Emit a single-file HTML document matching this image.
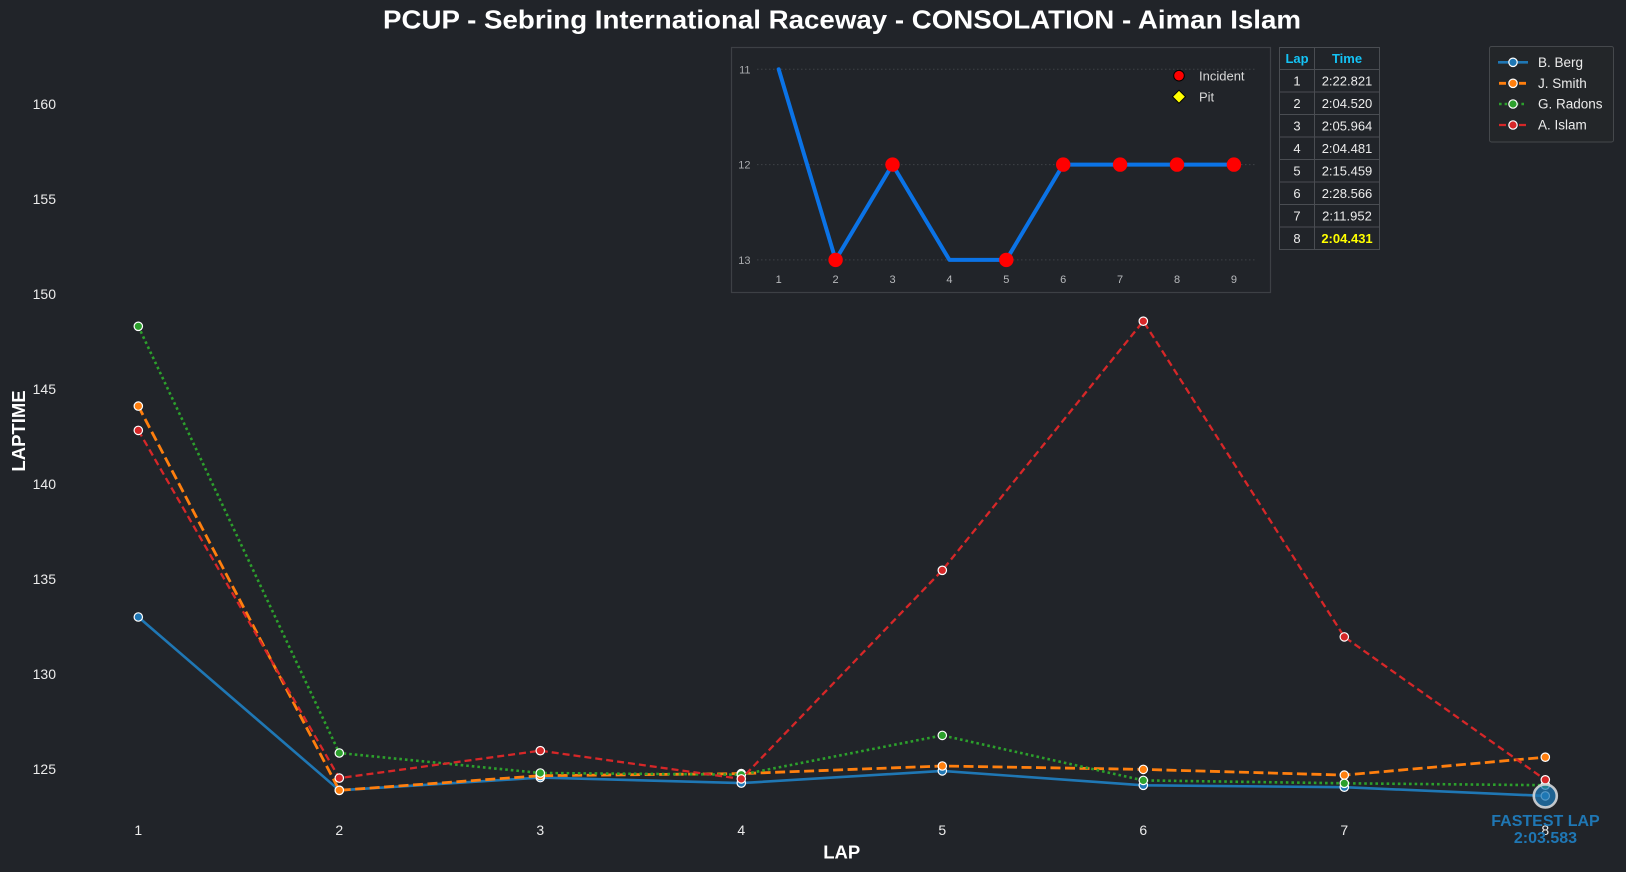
<!DOCTYPE html>
<html>
<head>
<meta charset="utf-8">
<style>
  html, body { margin:0; padding:0; background:#212429; }
  body { width:1626px; height:872px; overflow:hidden; }
  svg { display:block; font-family:"Liberation Sans", Arial, sans-serif; }
</style>
</head>
<body>
<svg width="1626" height="872" viewBox="0 0 1626 872" xmlns="http://www.w3.org/2000/svg">
  <rect x="0" y="0" width="1626" height="872" fill="#212429"/>

  <!-- Title -->
  <text x="842" y="28.5" text-anchor="middle" font-size="26" font-weight="bold" fill="#ffffff" textLength="918" lengthAdjust="spacingAndGlyphs">PCUP - Sebring International Raceway - CONSOLATION - Aiman Islam</text>

  <!-- Y tick labels -->
  <g font-size="14" fill="#ececec" text-anchor="end">
    <text x="56" y="109">160</text>
    <text x="56" y="204">155</text>
    <text x="56" y="299">150</text>
    <text x="56" y="394">145</text>
    <text x="56" y="489">140</text>
    <text x="56" y="584">135</text>
    <text x="56" y="679">130</text>
    <text x="56" y="774">125</text>
  </g>

  <!-- X tick labels -->
  <g font-size="14" fill="#ececec" text-anchor="middle">
    <text x="138.3" y="835">1</text>
    <text x="339.3" y="835">2</text>
    <text x="540.3" y="835">3</text>
    <text x="741.3" y="835">4</text>
    <text x="942.3" y="835">5</text>
    <text x="1143.3" y="835">6</text>
    <text x="1344.3" y="835">7</text>
    <text x="1545.3" y="835">8</text>
  </g>

  <!-- Axis labels -->
  <text x="841.7" y="858.3" text-anchor="middle" font-size="18.5" font-weight="bold" fill="#ffffff">LAP</text>
  <text transform="translate(25,431) rotate(-90)" x="0" y="0" text-anchor="middle" font-size="18.5" font-weight="bold" fill="#ffffff">LAPTIME</text>

  <!-- Series: B. Berg -->
  <polyline fill="none" stroke="#1f77b4" stroke-width="2.6" stroke-linejoin="round"
    points="138.3,617 339.3,790.3 540.3,777.6 741.3,783.1 942.3,770.9 1143.3,785.3 1344.3,787.2 1545.3,795.9"/>
  <g fill="#1f77b4" stroke="#ffffff" stroke-width="1.2">
    <circle cx="138.3" cy="617" r="4.2"/>
    <circle cx="339.3" cy="790.3" r="4.2"/>
    <circle cx="540.3" cy="777.6" r="4.2"/>
    <circle cx="741.3" cy="783.1" r="4.2"/>
    <circle cx="942.3" cy="770.9" r="4.2"/>
    <circle cx="1143.3" cy="785.3" r="4.2"/>
    <circle cx="1344.3" cy="787.2" r="4.2"/>
    <circle cx="1545.3" cy="795.9" r="4.2"/>
  </g>

  <!-- Series: J. Smith -->
  <polyline fill="none" stroke="#ff7f0e" stroke-width="2.8" stroke-dasharray="10,4.5" stroke-linejoin="round"
    points="138.3,406.1 339.3,790.3 540.3,775.7 741.3,773.6 942.3,766 1143.3,769.4 1344.3,775.1 1545.3,757.2"/>
  <g fill="#ff7f0e" stroke="#ffffff" stroke-width="1.2">
    <circle cx="138.3" cy="406.1" r="4.2"/>
    <circle cx="339.3" cy="790.3" r="4.2"/>
    <circle cx="540.3" cy="775.7" r="4.2"/>
    <circle cx="741.3" cy="773.6" r="4.2"/>
    <circle cx="942.3" cy="766" r="4.2"/>
    <circle cx="1143.3" cy="769.4" r="4.2"/>
    <circle cx="1344.3" cy="775.1" r="4.2"/>
    <circle cx="1545.3" cy="757.2" r="4.2"/>
  </g>

  <!-- Series: G. Radons -->
  <polyline fill="none" stroke="#2ca02c" stroke-width="2.6" stroke-dasharray="2.6,3" stroke-linejoin="round"
    points="138.3,326.3 339.3,753 540.3,773 741.3,774.7 942.3,735.4 1143.3,780.4 1344.3,783.3 1545.3,785.2"/>
  <g fill="#2ca02c" stroke="#ffffff" stroke-width="1.2">
    <circle cx="138.3" cy="326.3" r="4.2"/>
    <circle cx="339.3" cy="753" r="4.2"/>
    <circle cx="540.3" cy="773" r="4.2"/>
    <circle cx="741.3" cy="774.7" r="4.2"/>
    <circle cx="942.3" cy="735.4" r="4.2"/>
    <circle cx="1143.3" cy="780.4" r="4.2"/>
    <circle cx="1344.3" cy="783.3" r="4.2"/>
    <circle cx="1545.3" cy="785.2" r="4.2"/>
  </g>

  <!-- Series: A. Islam -->
  <polyline fill="none" stroke="#d62728" stroke-width="2.3" stroke-dasharray="7,4" stroke-linejoin="round"
    points="138.3,430.4 339.3,778.1 540.3,750.7 741.3,778.9 942.3,570.3 1143.3,321.2 1344.3,636.9 1545.3,779.8"/>
  <g fill="#d62728" stroke="#ffffff" stroke-width="1.2">
    <circle cx="138.3" cy="430.4" r="4.2"/>
    <circle cx="339.3" cy="778.1" r="4.2"/>
    <circle cx="540.3" cy="750.7" r="4.2"/>
    <circle cx="741.3" cy="778.9" r="4.2"/>
    <circle cx="942.3" cy="570.3" r="4.2"/>
    <circle cx="1143.3" cy="321.2" r="4.2"/>
    <circle cx="1344.3" cy="636.9" r="4.2"/>
    <circle cx="1545.3" cy="779.8" r="4.2"/>
  </g>

  <!-- Fastest lap highlight -->
  <circle cx="1545.3" cy="795.9" r="11.5" fill="#1f77b4" fill-opacity="0.75" stroke="#d4d6d8" stroke-width="2.6" stroke-opacity="0.9"/>
  <g font-size="16" font-weight="bold" fill="#1f77b4" text-anchor="middle">
    <text x="1545.5" y="826">FASTEST LAP</text>
    <text x="1545.5" y="843">2:03.583</text>
  </g>

  <!-- Inset position chart -->
  <rect x="731.5" y="47.5" width="539" height="245" fill="#212429" stroke="#3d4045" stroke-width="1.2"/>
  <g stroke="#3f4247" stroke-width="1" stroke-dasharray="1.5,2.5">
    <line x1="757" y1="69.3" x2="1255" y2="69.3"/>
    <line x1="757" y1="164.6" x2="1255" y2="164.6"/>
    <line x1="757" y1="259.9" x2="1255" y2="259.9"/>
  </g>
  <g font-size="11" fill="#a9abae" text-anchor="end">
    <text x="750.5" y="73.3">11</text>
    <text x="750.5" y="168.6">12</text>
    <text x="750.5" y="263.9">13</text>
  </g>
  <g font-size="11" fill="#b8babd" text-anchor="middle">
    <text x="778.7" y="283">1</text>
    <text x="835.6" y="283">2</text>
    <text x="892.5" y="283">3</text>
    <text x="949.4" y="283">4</text>
    <text x="1006.3" y="283">5</text>
    <text x="1063.2" y="283">6</text>
    <text x="1120.1" y="283">7</text>
    <text x="1177" y="283">8</text>
    <text x="1233.9" y="283">9</text>
  </g>
  <polyline fill="none" stroke="#0b73e6" stroke-width="4" stroke-linejoin="round" stroke-linecap="round"
    points="778.7,69.3 835.6,259.9 892.5,164.6 949.4,259.9 1006.3,259.9 1063.2,164.6 1120.1,164.6 1177,164.6 1233.9,164.6"/>
  <g fill="#ff0000">
    <circle cx="835.6" cy="259.9" r="7.2"/>
    <circle cx="892.5" cy="164.6" r="7.2"/>
    <circle cx="1006.3" cy="259.9" r="7.2"/>
    <circle cx="1063.2" cy="164.6" r="7.2"/>
    <circle cx="1120.1" cy="164.6" r="7.2"/>
    <circle cx="1177" cy="164.6" r="7.2"/>
    <circle cx="1233.9" cy="164.6" r="7.2"/>
  </g>
  <!-- inset legend -->
  <circle cx="1179" cy="75.7" r="5.3" fill="#ff0000" stroke="#000000" stroke-width="1"/>
  <text x="1199" y="80.3" font-size="13" fill="#d8d8d8">Incident</text>
  <polygon points="1179,90.2 1185.5,96.7 1179,103.2 1172.5,96.7" fill="#ffff00" stroke="#000000" stroke-width="1"/>
  <text x="1199" y="101.3" font-size="13" fill="#d8d8d8">Pit</text>

  <!-- Lap time table -->
  <g stroke="#4a4d52" stroke-width="1" fill="none">
    <rect x="1279.5" y="47.5" width="100" height="202"/>
    <line x1="1314.5" y1="47.5" x2="1314.5" y2="249.5"/>
    <line x1="1279.5" y1="69.5" x2="1379.5" y2="69.5"/>
    <line x1="1279.5" y1="92" x2="1379.5" y2="92"/>
    <line x1="1279.5" y1="114.5" x2="1379.5" y2="114.5"/>
    <line x1="1279.5" y1="137" x2="1379.5" y2="137"/>
    <line x1="1279.5" y1="159.5" x2="1379.5" y2="159.5"/>
    <line x1="1279.5" y1="182" x2="1379.5" y2="182"/>
    <line x1="1279.5" y1="204.5" x2="1379.5" y2="204.5"/>
    <line x1="1279.5" y1="227" x2="1379.5" y2="227"/>
  </g>
  <g font-size="13" text-anchor="middle">
    <text x="1297" y="63" fill="#14c3f5" font-weight="bold">Lap</text>
    <text x="1347" y="63" fill="#14c3f5" font-weight="bold">Time</text>
    <g fill="#ececec">
      <text x="1297" y="85.5">1</text><text x="1347" y="85.5">2:22.821</text>
      <text x="1297" y="108">2</text><text x="1347" y="108">2:04.520</text>
      <text x="1297" y="130.5">3</text><text x="1347" y="130.5">2:05.964</text>
      <text x="1297" y="153">4</text><text x="1347" y="153">2:04.481</text>
      <text x="1297" y="175.5">5</text><text x="1347" y="175.5">2:15.459</text>
      <text x="1297" y="198">6</text><text x="1347" y="198">2:28.566</text>
      <text x="1297" y="220.5">7</text><text x="1347" y="220.5">2:11.952</text>
      <text x="1297" y="243">8</text>
    </g>
    <text x="1347" y="243" fill="#ffff00" font-weight="bold">2:04.431</text>
  </g>

  <!-- Main legend -->
  <rect x="1489.5" y="46.5" width="124" height="95.5" rx="2" ry="2" fill="#232629" stroke="#45484c" stroke-width="1"/>
  <g>
    <line x1="1498" y1="62.3" x2="1528" y2="62.3" stroke="#1f77b4" stroke-width="2.6"/>
    <circle cx="1513" cy="62.3" r="4.2" fill="#1f77b4" stroke="#ffffff" stroke-width="1.2"/>
    <line x1="1499" y1="83.3" x2="1527" y2="83.3" stroke="#ff7f0e" stroke-width="2.8" stroke-dasharray="7,3"/>
    <circle cx="1513" cy="83.3" r="4.2" fill="#ff7f0e" stroke="#ffffff" stroke-width="1.2"/>
    <line x1="1499" y1="104" x2="1527" y2="104" stroke="#2ca02c" stroke-width="2.6" stroke-dasharray="2.6,3"/>
    <circle cx="1513" cy="104" r="4.2" fill="#2ca02c" stroke="#ffffff" stroke-width="1.2"/>
    <line x1="1499" y1="125" x2="1527" y2="125" stroke="#d62728" stroke-width="2.3" stroke-dasharray="7,3"/>
    <circle cx="1513" cy="125" r="4.2" fill="#d62728" stroke="#ffffff" stroke-width="1.2"/>
  </g>
  <g font-size="13.5" fill="#ececec">
    <text x="1538" y="67">B. Berg</text>
    <text x="1538" y="88">J. Smith</text>
    <text x="1538" y="108.7">G. Radons</text>
    <text x="1538" y="129.7">A. Islam</text>
  </g>
</svg>
</body>
</html>
